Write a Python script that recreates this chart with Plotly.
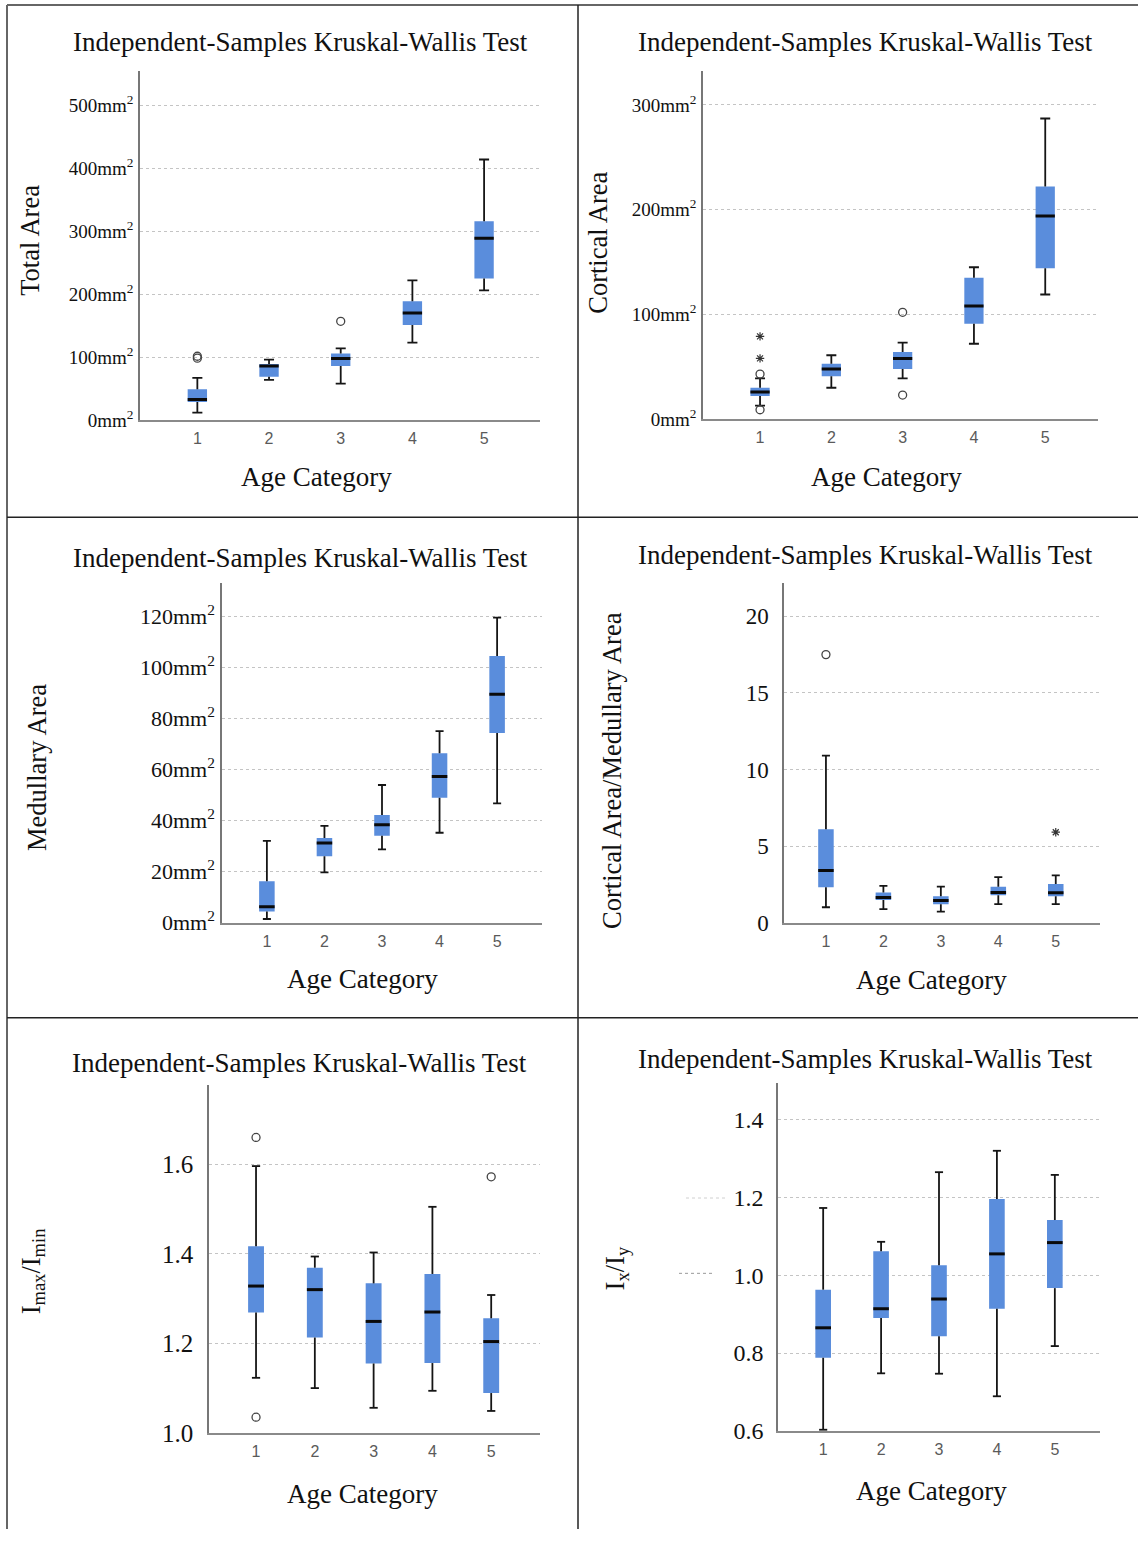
import plotly.graph_objects as go

W, H = 1138, 1543

# ---------------- data ----------------
categories = [1, 2, 3, 4, 5]
category_labels = ["1", "2", "3", "4", "5"]

# Panel 1: Total Area (mm^2)
ta_low = [12, 64, 58, 123, 206]
ta_q1 = [29, 69, 86, 151, 225]
ta_med = [33, 86, 98, 170, 289]
ta_q3 = [49, 89, 106, 189, 316]
ta_high = [67, 96, 114, 222, 414]
ta_out_x = [1, 1, 3]
ta_out_y = [98.5, 101.5, 157]
ta_ext_x = []
ta_ext_y = []

# Panel 2: Cortical Area (mm^2)
ca_low = [13, 30, 39, 72, 119]
ca_q1 = [22, 41, 48, 91, 144]
ca_med = [26, 48, 58, 108, 194]
ca_q3 = [30, 53, 64, 135, 222]
ca_high = [39, 61, 73, 145, 287]
ca_out_x = [1, 1, 3, 3]
ca_out_y = [43, 9, 102, 23]
ca_ext_x = [1, 1]
ca_ext_y = [79, 58]

# Panel 3: Medullary Area (mm^2)
ma_low = [1.4, 19.7, 28.7, 35.2, 46.7]
ma_q1 = [4.3, 26.0, 34.0, 48.9, 74.3]
ma_med = [6.2, 31.2, 38.3, 57.2, 89.5]
ma_q3 = [16.2, 33.1, 42.1, 66.3, 104.5]
ma_high = [32.0, 37.9, 53.9, 75.0, 119.5]
ma_out_x = []
ma_out_y = []
ma_ext_x = []
ma_ext_y = []

# Panel 4: Cortical Area / Medullary Area
cm_low = [1.0, 0.88, 0.71, 1.2, 1.2]
cm_q1 = [2.3, 1.47, 1.2, 1.79, 1.72]
cm_med = [3.4, 1.64, 1.44, 1.96, 1.94]
cm_q3 = [6.1, 1.96, 1.72, 2.33, 2.52]
cm_high = [10.9, 2.4, 2.35, 2.97, 3.08]
cm_out_x = [1]
cm_out_y = [17.5]
cm_ext_x = [5]
cm_ext_y = [5.9]

# Panel 5: Imax / Imin
im_low = [1.123, 1.100, 1.056, 1.094, 1.049]
im_q1 = [1.269, 1.213, 1.155, 1.156, 1.089]
im_med = [1.328, 1.320, 1.249, 1.270, 1.204]
im_q3 = [1.417, 1.369, 1.334, 1.355, 1.256]
im_high = [1.596, 1.394, 1.403, 1.505, 1.308]
im_out_x = [1, 1, 5]
im_out_y = [1.660, 1.035, 1.572]
im_ext_x = []
im_ext_y = []

# Panel 6: Ix / Iy
ix_low = [0.603, 0.748, 0.747, 0.689, 0.818]
ix_q1 = [0.788, 0.890, 0.843, 0.914, 0.967]
ix_med = [0.865, 0.914, 0.939, 1.055, 1.084]
ix_q3 = [0.963, 1.062, 1.026, 1.196, 1.142]
ix_high = [1.173, 1.086, 1.265, 1.320, 1.258]
ix_out_x = []
ix_out_y = []
ix_ext_x = []
ix_ext_y = []

title_text = "Independent-Samples Kruskal-Wallis Test"
x_title = "Age Category"
y_titles = ["Total Area", "Cortical Area", "Medullary Area",
            "Cortical Area/Medullary Area",
            "I<sub>max</sub>/I<sub>min</sub>", "I<sub>x</sub>/I<sub>y</sub>"]

p1_ticks = [0, 100, 200, 300, 400, 500]
p2_ticks = [0, 100, 200, 300]
p3_ticks = [0, 20, 40, 60, 80, 100, 120]
p4_ticks = [0, 5, 10, 15, 20]
p5_ticks = [1.0, 1.2, 1.4, 1.6]
p6_ticks = [0.6, 0.8, 1.0, 1.2, 1.4]

# ---------------- styling / layout ----------------
BLUE = "#5a8ddc"
SERIF = "Liberation Serif, Times New Roman, serif"
SANS = "Liberation Sans, Arial, sans-serif"
BOX_W = 0.27
CAP_W = 0.14


def fx(px):
    return px / W


def fy(py):
    return 1 - py / H


panels = [
    dict(d=(ta_low, ta_q1, ta_med, ta_q3, ta_high), out=(ta_out_x, ta_out_y), ext=(ta_ext_x, ta_ext_y),
         xd=(140, 540), yd=(72, 424), xr=(0.2, 5.78), yr=(0, 554),
         ticks=p1_ticks, tt=[f"{v}mm<sup>2</sup>" for v in p1_ticks], tfs=19, tso=1,
         title=(300, 42), ytitle=(30, 243), xtitle=(316, 481)),
    dict(d=(ca_low, ca_q1, ca_med, ca_q3, ca_high), out=(ca_out_x, ca_out_y), ext=(ca_ext_x, ca_ext_y),
         xd=(703, 1098), yd=(72, 423), xr=(0.2, 5.74), yr=(0, 332),
         ticks=p2_ticks, tt=[f"{v}mm<sup>2</sup>" for v in p2_ticks], tfs=19, tso=1,
         title=(866, 42), ytitle=(598, 245), xtitle=(886, 481)),
    dict(d=(ma_low, ma_q1, ma_med, ma_q3, ma_high), out=(ma_out_x, ma_out_y), ext=(ma_ext_x, ma_ext_y),
         xd=(222, 542), yd=(588, 931), xr=(0.22, 5.78), yr=(0, 133.2),
         ticks=p3_ticks, tt=[f"{v}mm<sup>2</sup>" for v in p3_ticks], tfs=22, tso=1,
         title=(300, 563), ytitle=(37, 775), xtitle=(363, 988)),
    dict(d=(cm_low, cm_q1, cm_med, cm_q3, cm_high), out=(cm_out_x, cm_out_y), ext=(cm_ext_x, cm_ext_y),
         xd=(784, 1100), yd=(588, 931), xr=(0.27, 5.77), yr=(0, 22.2),
         ticks=p4_ticks, tt=[str(v) for v in p4_ticks], tfs=23, tso=9,
         title=(866, 560), ytitle=(612, 778), xtitle=(931, 989)),
    dict(d=(im_low, im_q1, im_med, im_q3, im_high), out=(im_out_x, im_out_y), ext=(im_ext_x, im_ext_y),
         xd=(209, 540), yd=(1095, 1446), xr=(0.2, 5.83), yr=(1.0, 1.777),
         ticks=p5_ticks, tt=[f"{v:.1f}" for v in p5_ticks], tfs=25, tso=9,
         title=(299, 1073), ytitle=(33, 1283), xtitle=(363, 1508)),
    dict(d=(ix_low, ix_q1, ix_med, ix_q3, ix_high), out=(ix_out_x, ix_out_y), ext=(ix_ext_x, ix_ext_y),
         xd=(778, 1100), yd=(1093, 1444), xr=(0.22, 5.78), yr=(0.6, 1.494),
         ticks=p6_ticks, tt=[f"{v:.1f}" for v in p6_ticks], tfs=24, tso=8,
         title=(866, 1069), ytitle=(617, 1280), xtitle=(931, 1505)),
]

fig = go.Figure()
annotations = []
shapes = []

for i, p in enumerate(panels, start=1):
    xa = "x" if i == 1 else f"x{i}"
    ya = "y" if i == 1 else f"y{i}"
    low, q1, med, q3, high = p["d"]

    # box body
    fig.add_trace(go.Bar(
        x=categories, y=[b - a for a, b in zip(q1, q3)], base=q1, width=BOX_W,
        marker=dict(color=BLUE, line=dict(width=0)), xaxis=xa, yaxis=ya,
        showlegend=False, hoverinfo="skip"))

    # whiskers
    wx, wy = [], []
    for c, lo, a, b, hi in zip(categories, low, q1, q3, high):
        wx += [c, c, None, c, c, None]
        wy += [lo, a, None, b, hi, None]
    fig.add_trace(go.Scatter(x=wx, y=wy, mode="lines", line=dict(color="#151515", width=1.8),
                             xaxis=xa, yaxis=ya, showlegend=False, hoverinfo="skip"))

    # caps
    cx, cy = [], []
    for c, lo, hi in zip(categories, low, high):
        cx += [c - CAP_W / 2, c + CAP_W / 2, None, c - CAP_W / 2, c + CAP_W / 2, None]
        cy += [lo, lo, None, hi, hi, None]
    fig.add_trace(go.Scatter(x=cx, y=cy, mode="lines", line=dict(color="#151515", width=1.8),
                             xaxis=xa, yaxis=ya, showlegend=False, hoverinfo="skip"))

    # medians
    mx, my = [], []
    for c, m in zip(categories, med):
        mx += [c - BOX_W / 2, c + BOX_W / 2, None]
        my += [m, m, None]
    fig.add_trace(go.Scatter(x=mx, y=my, mode="lines", line=dict(color="#0a0a0a", width=3),
                             xaxis=xa, yaxis=ya, showlegend=False, hoverinfo="skip"))

    # outliers
    ox, oy = p["out"]
    if ox:
        fig.add_trace(go.Scatter(x=ox, y=oy, mode="markers",
                                 marker=dict(symbol="circle-open", size=8, color="#444",
                                             line=dict(width=1.3, color="#444")),
                                 xaxis=xa, yaxis=ya, showlegend=False, hoverinfo="skip"))
    ex, ey = p["ext"]
    if ex:
        fig.add_trace(go.Scatter(x=ex, y=ey, mode="markers",
                                 marker=dict(symbol="asterisk-open", size=7, color="#333",
                                             line=dict(width=1.2, color="#333")),
                                 xaxis=xa, yaxis=ya, showlegend=False, hoverinfo="skip"))

    xkey = "xaxis" if i == 1 else f"xaxis{i}"
    ykey = "yaxis" if i == 1 else f"yaxis{i}"
    fig.update_layout({
        xkey: dict(domain=[fx(p["xd"][0]), fx(p["xd"][1])], range=list(p["xr"]), anchor=ya,
                   tickmode="array", tickvals=categories, ticktext=category_labels,
                   showgrid=False, zeroline=False, showline=True, linecolor="#8a8a8a", linewidth=1.5,
                   ticks="", ticklabelstandoff=3,
                   tickfont=dict(family=SANS, size=16, color="#5a5a5a"), fixedrange=True),
        ykey: dict(domain=[fy(p["yd"][1]), fy(p["yd"][0])], range=list(p["yr"]), anchor=xa,
                   tickmode="array", tickvals=p["ticks"], ticktext=p["tt"],
                   showgrid=True, gridcolor="#c4c4c4", gridwidth=1, griddash="3px,3px",
                   zeroline=False, showline=True, linecolor="#777", linewidth=1.5,
                   ticks="", ticklabelstandoff=p["tso"],
                   tickfont=dict(family=SERIF, size=p["tfs"], color="#111"), fixedrange=True),
    })

    tx, ty = p["title"]
    annotations.append(dict(text=title_text, x=fx(tx), y=fy(ty), xref="paper", yref="paper",
                            xanchor="center", yanchor="middle", showarrow=False,
                            font=dict(family=SERIF, size=27, color="#111")))
    tx, ty = p["ytitle"]
    annotations.append(dict(text=y_titles[i - 1], x=fx(tx), y=fy(ty), xref="paper", yref="paper",
                            xanchor="center", yanchor="middle", showarrow=False, textangle=-90,
                            font=dict(family=SERIF, size=26.5, color="#111")))
    tx, ty = p["xtitle"]
    annotations.append(dict(text=x_title, x=fx(tx), y=fy(ty), xref="paper", yref="paper",
                            xanchor="center", yanchor="middle", showarrow=False,
                            font=dict(family=SERIF, size=27, color="#111")))

# panel frame lines
shapes += [
    dict(type="line", xref="paper", yref="paper", x0=fx(7), x1=1, y0=fy(5), y1=fy(5),
         line=dict(color="#666", width=2)),
    dict(type="line", xref="paper", yref="paper", x0=fx(7), x1=fx(7), y0=fy(5), y1=0,
         line=dict(color="#666", width=2)),
    dict(type="line", xref="paper", yref="paper", x0=fx(578), x1=fx(578), y0=fy(5), y1=0,
         line=dict(color="#222", width=1.5)),
    dict(type="line", xref="paper", yref="paper", x0=fx(7), x1=1, y0=fy(522), y1=fy(522),
         line=dict(color="#222", width=1.5)),
    dict(type="line", xref="paper", yref="paper", x0=fx(7), x1=1, y0=fy(1027), y1=fy(1027),
         line=dict(color="#222", width=1.5)),
    # faint stray dashes left of the last panel's axis
    dict(type="line", xref="paper", yref="paper", x0=fx(686), x1=fx(728), y0=fy(1209), y1=fy(1209),
         line=dict(color="#d0d0d0", width=1, dash="dot")),
    dict(type="line", xref="paper", yref="paper", x0=fx(679), x1=fx(712), y0=fy(1285), y1=fy(1285),
         line=dict(color="#999", width=1, dash="dot")),
]

fig.update_layout(
    width=W, height=H, margin=dict(l=0, r=0, t=0, b=0),
    paper_bgcolor="white", plot_bgcolor="white",
    barmode="overlay", showlegend=False,
    annotations=annotations, shapes=shapes,
)

fig.write_html("out.html", config={"displayModeBar": False})
